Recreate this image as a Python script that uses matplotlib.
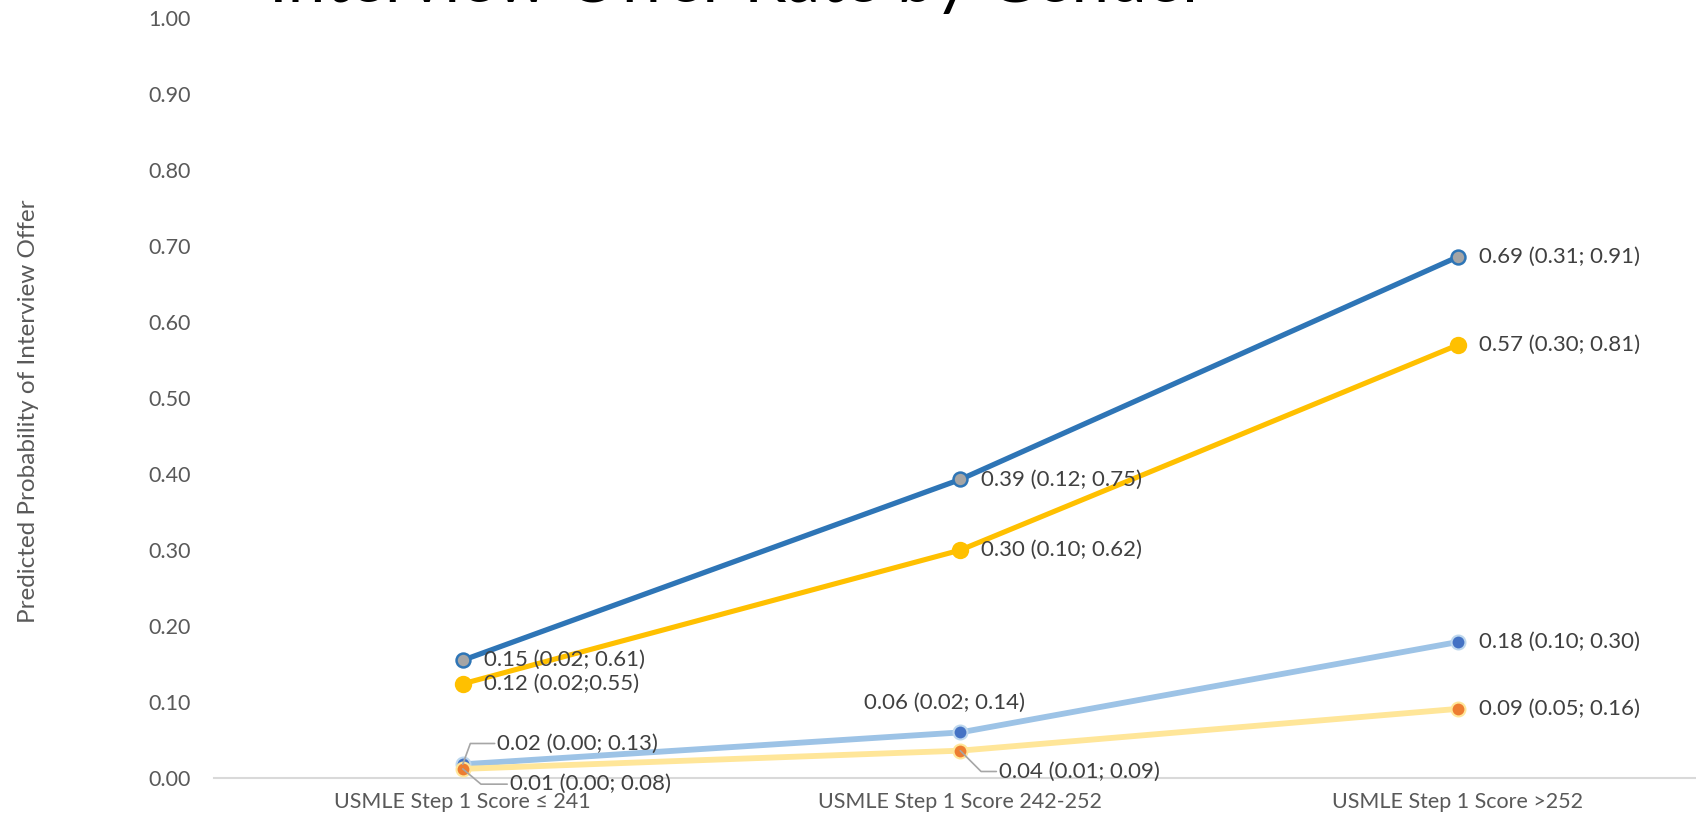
import numpy as np
import matplotlib
matplotlib.use('Agg')
import matplotlib.pyplot as plt

# categories and series (predicted probabilities)
categories = ['USMLE Step 1 Score \u2264 241', 'USMLE Step 1 Score 242-252', 'USMLE Step 1 Score >252']
yTicks     = [0.0, 0.1, 0.2, 0.3, 0.4, 0.5, 0.6, 0.7, 0.8, 0.9, 1.0]

s1Vals   = [0.155, 0.393, 0.686]
s1Labels = ['0.15 (0.02; 0.61)', '0.39 (0.12; 0.75)', '0.69 (0.31; 0.91)']
s2Vals   = [0.124, 0.300, 0.570]
s2Labels = ['0.12 (0.02;0.55)', '0.30 (0.10; 0.62)', '0.57 (0.30; 0.81)']
s3Vals   = [0.018, 0.060, 0.179]
s3Labels = ['0.02 (0.00; 0.13)', '0.06 (0.02; 0.14)', '0.18 (0.10; 0.30)']
s4Vals   = [0.012, 0.036, 0.091]
s4Labels = ['0.01 (0.00; 0.08)', '0.04 (0.01; 0.09)', '0.09 (0.05; 0.16)']

titleText = 'Interview Offer Rate by Gender'
yLabel    = 'Predicted Probability of Interview Offer'

fontFam  = ['Lato', 'DejaVu Sans']
textCol  = '#595959'
labelSZ  = 16
tickSZ   = 15.5
ylabSZ   = 17.5

plt.rcParams['font.family'] = fontFam

fig = plt.figure(figsize=(16.96, 8.22), dpi=100)
ax = fig.add_axes([214/1696., 1 - 778/822., 1 - 214/1696., (778 - 18.4)/822.])
x = np.arange(len(categories))

ax.plot(x, s3Vals, color='#9DC3E6', lw=4.2, marker='o', ms=10,
        mfc='#4472C4', mec='#BDD7EE', mew=1.5, zorder=3)
ax.plot(x, s4Vals, color='#FFE699', lw=4.2, marker='o', ms=10,
        mfc='#ED7D31', mec='#FFE699', mew=1.5, zorder=3)
ax.plot(x, s2Vals, color='#FFC000', lw=3.7, marker='o', ms=11,
        mfc='#FFC000', mec='#FFC000', mew=1.5, zorder=4)
ax.plot(x, s1Vals, color='#2E75B6', lw=3.8, marker='o', ms=10,
        mfc='#A5A5A5', mec='#2E75B6', mew=1.8, zorder=5)

ax.set_xlim(-0.5, (1696 - 214)/497.5 - 0.5)
ax.set_ylim(0, 1.0)

# right-side data labels
def rightLabel(xi, yi, txt):
	ax.annotate(txt, (xi, yi), xytext=(15, 0), textcoords='offset points',
		    ha='left', va='center', fontsize=labelSZ, color='#404040', zorder=6)

for i in range(3):
	rightLabel(x[i], s1Vals[i], s1Labels[i])
	rightLabel(x[i], s2Vals[i], s2Labels[i])
rightLabel(x[2], s3Vals[2], s3Labels[2])
rightLabel(x[2], s4Vals[2], s4Labels[2])

# labels with leader lines
ax.annotate(s3Labels[0], (x[0], s3Vals[0]), xytext=(25, 15), textcoords='offset points',
	    ha='left', va='center', fontsize=labelSZ, color='#404040',
	    arrowprops=dict(arrowstyle='-', color='#A6A6A6', lw=1.2, shrinkA=0, shrinkB=0,
			    relpos=(0, 0.5), connectionstyle='angle,angleA=0,angleB=70,rad=0'))
ax.annotate(s4Labels[0], (x[0], s4Vals[0]), xytext=(34, -11), textcoords='offset points',
	    ha='left', va='center', fontsize=labelSZ, color='#404040',
	    arrowprops=dict(arrowstyle='-', color='#A6A6A6', lw=1.2, shrinkA=0, shrinkB=0,
			    relpos=(0, 0.5), connectionstyle='angle,angleA=0,angleB=-40,rad=0'))
ax.annotate(s3Labels[1], (x[1], s3Vals[1]), xytext=(-11, 21), textcoords='offset points',
	    ha='center', va='center', fontsize=labelSZ, color='#404040')
ax.annotate(s4Labels[1], (x[1], s4Vals[1]), xytext=(28, -15), textcoords='offset points',
	    ha='left', va='center', fontsize=labelSZ, color='#404040',
	    arrowprops=dict(arrowstyle='-', color='#A6A6A6', lw=1.2, shrinkA=0, shrinkB=0,
			    relpos=(0, 0.5), connectionstyle='angle,angleA=0,angleB=-45,rad=0'))

ax.set_yticks(yTicks)
ax.set_yticklabels(['%.2f' % v for v in yTicks])
ax.set_xticks(x)
ax.set_xticklabels(categories)
ax.tick_params(axis='both', length=0, labelsize=tickSZ, colors=textCol)
ax.tick_params(axis='y', pad=17)
ax.tick_params(axis='x', pad=10)

for sp in ['top', 'right', 'left']:
	ax.spines[sp].set_visible(False)
ax.spines['bottom'].set_color('#D9D9D9')
ax.spines['bottom'].set_linewidth(1.5)

fig.text(29/1696., 1 - 411/822., yLabel, rotation=90, ha='center', va='center',
	 fontsize=ylabSZ, color=textCol)

# title is cut at the top edge, only letter bottoms show
fig.text(738/1696., 1 - 2/822., titleText, ha='center', va='baseline',
	 fontsize=48.5, color='black')

fig.savefig('out.png', dpi=100)
